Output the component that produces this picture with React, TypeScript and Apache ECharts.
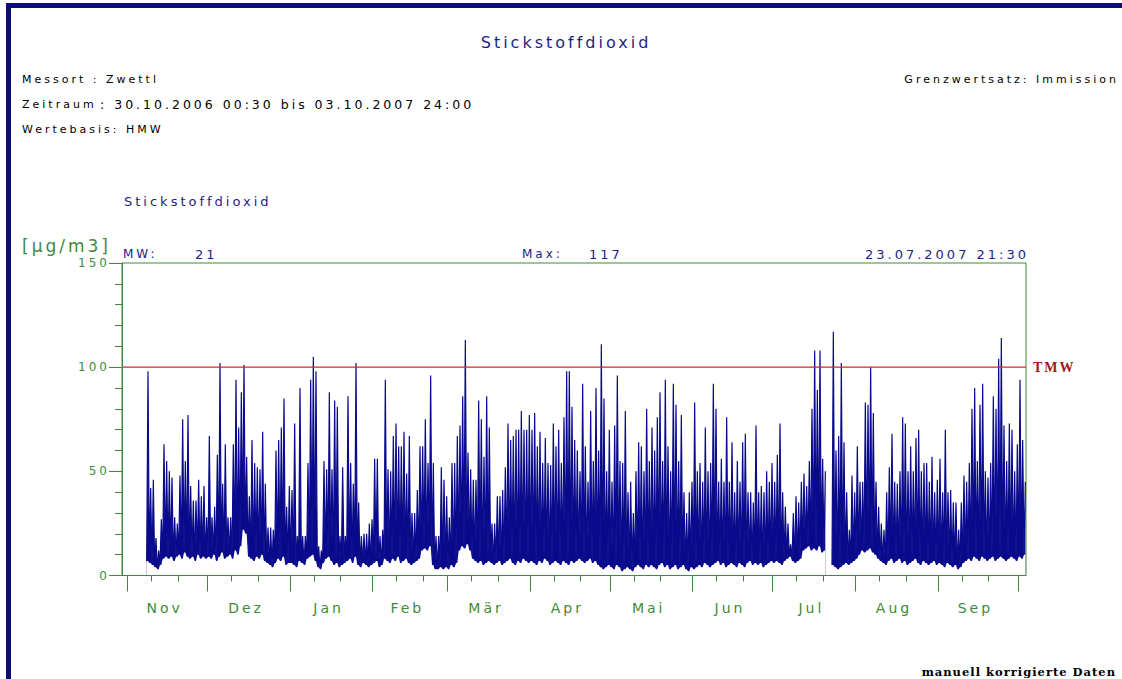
import React, { useEffect, useRef } from 'react';
import * as echarts from 'echarts';

// ---- x axis categories (month labels) ----
const monthNames = ['Nov', 'Dez', 'Jan', 'Feb', 'Mär', 'Apr', 'Mai', 'Jun', 'Jul', 'Aug', 'Sep'];
const yTickLabels = [0, 50, 100, 150];
const TMW_LIMIT = 100;

// ---- daily maxima (Hi) and minima (Lo) of the half-hour values, µg/m3 ----
const oct06Hi = [null, null];
const oct06Lo = [null, null];
const novHi = [null, null, null, null, null, null, null, 98, 42, 46, 18, 12, 27, 63, 55, 50, 47, 28, 25, 48, 75, 55, 77, 43, 36, 36, 46, 38, 43, 28];
const novLo = [null, null, null, null, null, null, null, 7, 6, 5, 4, 3, 5, 8, 9, 8, 9, 7, 9, 10, 8, 11, 9, 8, 9, 7, 10, 8, 9, 8];
const decHi = [67, 28, 33, 58, 102, 44, 63, 28, 28, 63, 94, 71, 88, 101, 57, 38, 65, 54, 52, 51, 69, 44, 23, 23, 22, 60, 65, 71, 85, 33, 43];
const decLo = [9, 8, 10, 7, 9, 11, 8, 9, 10, 8, 12, 10, 14, 22, 20, 9, 8, 7, 9, 8, 10, 7, 6, 5, 4, 6, 8, 7, 9, 5, 6];
const janHi = [41, 73, 19, 90, 19, 19, 54, 94, 105, 98, 14, 12, 55, 51, 88, 51, 84, 81, 19, 52, 19, 86, 54, 44, 102, 35, 19, 20, 20, 25, 27];
const janLo = [6, 5, 4, 7, 6, 5, 8, 9, 10, 7, 4, 3, 6, 8, 9, 7, 5, 6, 4, 5, 6, 7, 8, 6, 9, 5, 4, 6, 5, 4, 5];
const febHi = [56, 56, 19, 22, 94, 51, 50, 67, 73, 62, 62, 69, 49, 67, 30, 30, 41, 62, 62, 75, 54, 96, 54, 19, 19, 52, 46, 38];
const febLo = [6, 7, 4, 5, 8, 7, 6, 8, 7, 9, 6, 7, 8, 6, 5, 6, 7, 8, 12, 13, 12, 14, 5, 3, 3, 4, 3, 4];
const marHi = [28, 54, 54, 67, 72, 86, 113, 59, 51, 46, 46, 84, 75, 57, 86, 71, 25, 25, 38, 38, 41, 52, 73, 65, 67, 70, 70, 79, 70, 70, 77];
const marLo = [3, 5, 4, 6, 12, 14, 13, 15, 12, 8, 7, 6, 7, 5, 6, 7, 6, 5, 6, 7, 5, 6, 7, 8, 6, 5, 7, 6, 8, 7, 6];
const aprHi = [70, 78, 62, 69, 54, 66, 54, 53, 73, 62, 70, 54, 76, 98, 98, 81, 65, 60, 50, 92, 62, 45, 79, 55, 90, 60, 111, 85, 50, 70];
const aprLo = [7, 6, 5, 7, 6, 8, 7, 5, 6, 7, 6, 5, 7, 6, 5, 7, 6, 7, 8, 7, 6, 7, 8, 6, 7, 5, 4, 3, 4, 5];
const mayHi = [45, 72, 96, 55, 54, 79, 40, 45, 30, 50, 64, 62, 50, 80, 55, 71, 60, 76, 88, 55, 94, 62, 50, 92, 82, 55, 77, 40, 30, 40, 45];
const mayLo = [4, 3, 5, 4, 2, 3, 4, 3, 2, 4, 5, 4, 3, 5, 4, 5, 4, 3, 5, 6, 4, 5, 3, 4, 5, 3, 4, 5, 3, 2, 4];
const junHi = [83, 50, 54, 45, 71, 50, 54, 92, 80, 45, 56, 45, 76, 45, 64, 40, 55, 45, 64, 68, 40, 40, 35, 72, 40, 43, 40, 50, 45, 54];
const junLo = [3, 4, 5, 4, 6, 5, 4, 5, 6, 7, 5, 6, 4, 5, 6, 5, 4, 6, 5, 4, 6, 7, 5, 6, 5, 6, 4, 5, 6, 7];
const julHi = [45, 58, 73, 40, 33, 25, 15, 30, 38, 35, 45, 49, 43, 55, 80, 108, 89, 108, 56, 50, null, null, 117, 60, 67, 102, 64, 40, 22, 48, 40];
const julLo = [6, 7, 6, 5, 7, 8, 9, 7, 6, 7, 8, 12, 13, 14, 12, 13, 12, 14, 11, 12, null, null, 5, 4, 3, 4, 5, 6, 5, 6, 7];
const augHi = [62, 45, 45, 83, 82, 100, 78, 45, 33, 25, 22, 40, 52, 68, 45, 44, 50, 76, 73, 50, 62, 50, 66, 70, 50, 54, 54, 45, 57, 40, 46];
const augLo = [8, 10, 12, 11, 12, 13, 11, 10, 8, 7, 6, 5, 7, 8, 6, 7, 8, 6, 7, 5, 6, 7, 8, 6, 5, 7, 6, 5, 6, 7, 5];
const sepHi = [56, 40, 70, 40, 41, 35, 35, 22, 35, 48, 45, 54, 80, 90, 55, 82, 92, 50, 47, 54, 86, 80, 104, 114, 72, 55, 73, 70, 50, 63];
const sepLo = [6, 5, 4, 6, 5, 4, 5, 3, 4, 6, 7, 8, 7, 9, 8, 7, 9, 8, 7, 8, 9, 7, 8, 9, 8, 7, 8, 9, 8, 7];
const oct07Hi = [94, 65, 45];
const oct07Lo = [9, 8, 10];

const blocks: [(number | null)[], (number | null)[]][] = [
  [oct06Hi, oct06Lo], [novHi, novLo], [decHi, decLo], [janHi, janLo], [febHi, febLo],
  [marHi, marLo], [aprHi, aprLo], [mayHi, mayLo], [junHi, junLo], [julHi, julLo],
  [augHi, augLo], [sepHi, sepLo], [oct07Hi, oct07Lo],
];

const NAVY = '#1e1e82';
const FRAME = '#0c0c78';
const GREEN = '#3c8c3c';
const LINE = '#0a0a8c';
const RED = '#d02828';
const SANS = 'DejaVu Sans';

export default function App() {
  const ref = useRef<HTMLDivElement>(null);

  useEffect(() => {
    if (!ref.current) return;
    const chart = echarts.init(ref.current, undefined, { renderer: 'svg' });

    // build series points and month positions (days since 30.10.2006 00:00)
    const points: (number | null)[][] = [];
    const lows: (number | null)[][] = [];
    const monthStarts: number[] = [];
    const monthLens: number[] = [];
    let day = 0;
    blocks.forEach(([hi, lo]) => {
      monthStarts.push(day);
      monthLens.push(hi.length);
      hi.forEach((h, i) => {
        const d = day + i;
        if (h == null) {
          points.push([d + 0.5, null]);
          lows.push([d + 0.5, null]);
        } else {
          points.push([d + 0.25, lo[i]]);
          points.push([d + 0.75, h]);
          lows.push([d + 0.25, lo[i]]);
          lows.push([d + 0.75, lo[i]]);
        }
      });
      day += hi.length;
    });
    const totalDays = day;
    const majorTicks = monthStarts.slice(1);
    const minorTicks: number[] = [];
    const labelDays: number[] = [];
    for (let m = 1; m <= monthNames.length; m++) {
      minorTicks.push(monthStarts[m] + 9, monthStarts[m] + 19);
      labelDays.push(monthStarts[m] + monthLens[m] / 2 - 1);
    }

    const txt = (text: string, x: number, y: number, size: number, fill: string, align = 'left') => ({
      type: 'text', x, y, silent: true,
      style: {
        text, fill, fontSize: size, fontFamily: SANS,
        align, textAlign: align, verticalAlign: 'middle', textVerticalAlign: 'middle',
      },
    });

    chart.setOption({
      animation: false,
      backgroundColor: '#ffffff',
      grid: { left: 122, top: 263, width: 904, height: 312.5, show: true, borderColor: GREEN, borderWidth: 1, backgroundColor: 'transparent', z: 0 },
      xAxis: [
        {
          type: 'value', min: 0, max: totalDays, position: 'bottom', z: 10,
          axisLine: { show: true, lineStyle: { color: GREEN, width: 1 } },
          axisTick: { show: true, length: 16, customValues: majorTicks, lineStyle: { color: GREEN } },
          axisLabel: {
            show: true, customValues: labelDays, margin: 25, color: GREEN, fontSize: 14, fontFamily: SANS,
            formatter: (v: number) => {
              const idx = labelDays.findIndex((l) => Math.abs(l - v) < 0.01);
              return idx >= 0 ? monthNames[idx] : '';
            },
          },
          splitLine: { show: false },
        },
        {
          type: 'value', min: 0, max: totalDays, position: 'bottom', z: 10,
          axisLine: { show: false },
          axisTick: { show: true, length: 6, customValues: minorTicks, lineStyle: { color: GREEN } },
          axisLabel: { show: false },
          splitLine: { show: false },
        },
      ],
      yAxis: {
        type: 'value', min: yTickLabels[0], max: yTickLabels[yTickLabels.length - 1], interval: 50, z: 10,
        axisLine: { show: true, lineStyle: { color: GREEN } },
        axisTick: { show: true, length: 13, lineStyle: { color: GREEN } },
        minorTick: { show: true, splitNumber: 5, length: 7, lineStyle: { color: GREEN } },
        axisLabel: { color: GREEN, fontSize: 12, fontFamily: SANS, margin: 12 },
        splitLine: { show: false },
      },
      series: [
        {
          // half-hour values, drawn as daily min/max swings
          type: 'line', xAxisIndex: 0, data: points, symbol: 'none', showSymbol: false,
          connectNulls: false, silent: true, clip: true, z: 2,
          lineStyle: { color: LINE, width: 1.2 },
          areaStyle: { color: LINE, opacity: 1 },
        },
        {
          // white below the daily minima
          type: 'line', xAxisIndex: 0, data: lows, symbol: 'none', showSymbol: false,
          connectNulls: false, silent: true, clip: true, z: 3,
          lineStyle: { width: 0, opacity: 0 },
          areaStyle: { color: '#ffffff', opacity: 1 },
        },
        {
          // limit line TMW
          type: 'line', xAxisIndex: 0, data: [[0, TMW_LIMIT], [totalDays, TMW_LIMIT]],
          symbol: 'none', showSymbol: false, silent: true, z: 4,
          lineStyle: { color: RED, width: 1.2 },
          endLabel: {
            show: true, formatter: 'TMW', distance: 7,
            color: '#a01818', fontFamily: 'Liberation Serif', fontWeight: 'bold', fontSize: 14,
          },
        },
      ],
      graphic: [
        { type: 'rect', silent: true, shape: { x: 6, y: 3, width: 1116, height: 5 }, style: { fill: FRAME } },
        { type: 'rect', silent: true, shape: { x: 6, y: 3, width: 5, height: 676 }, style: { fill: FRAME } },
        txt('Stickstoffdioxid', 566, 42, 16, NAVY, 'center'),
        txt('Messort : Zwettl', 22, 79, 11, '#000'),
        txt('Zeitraum', 22, 104, 11, '#000'),
        txt(': 30.10.2006 00:30 bis 03.10.2007 24:00', 100, 104, 12.5, '#000'),
        txt('Wertebasis: HMW', 22, 129, 11, '#000'),
        txt('Grenzwertsatz: Immission', 1119, 79, 11, '#000', 'right'),
        txt('Stickstoffdioxid', 124, 201, 13, NAVY),
        txt('[µg/m3]', 22, 246, 17, GREEN),
        txt('MW:', 123, 254, 12, NAVY),
        txt('21', 195, 254, 13, NAVY),
        txt('Max:', 522, 254, 12, NAVY),
        txt('117', 589, 254, 13, NAVY),
        txt('23.07.2007 21:30', 1029, 254, 13, NAVY, 'right'),
        {
          type: 'text', x: 1116, y: 672, silent: true,
          style: {
            text: 'manuell korrigierte Daten', fill: '#000', fontSize: 11.5, fontFamily: 'DejaVu Serif', fontWeight: 'bold',
            align: 'right', textAlign: 'right', verticalAlign: 'middle', textVerticalAlign: 'middle',
          },
        },
      ],
    });
    return () => chart.dispose();
  }, []);

  return (
    <>
      <style>{`
        #no2chart text[style*="DejaVu Sans"] { letter-spacing: 3px; }
        #no2chart text[style*="DejaVu Serif"] { letter-spacing: 1px; }
        #no2chart text[style*="Liberation Serif"] { letter-spacing: 2px; }
      `}</style>
      <div
        id="no2chart"
        ref={ref}
        style={{ position: 'absolute', left: 0, top: 0, width: 1122, height: 679, background: '#fff' }}
      />
    </>
  );
}
